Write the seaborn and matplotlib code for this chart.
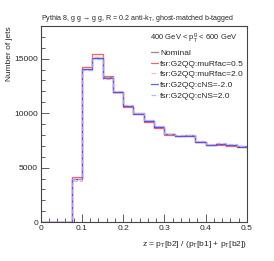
import numpy as np
import seaborn as sns
import matplotlib.pyplot as plt
from matplotlib.ticker import MultipleLocator

bin_edges = [0.0, 0.025, 0.05, 0.075, 0.1, 0.125, 0.15, 0.175, 0.2, 0.225, 0.25,
             0.275, 0.3, 0.325, 0.35, 0.375, 0.4, 0.425, 0.45, 0.475, 0.5]

nominal = [0, 0, 0, 3950, 14050, 15050, 13300, 11950, 10670, 9970, 9290,
           8740, 8070, 7890, 7950, 7370, 7090, 7150, 7060, 6940]
murfac_05 = [0, 0, 0, 4100, 14190, 15410, 13420, 11900, 10600, 9900, 9220,
             8680, 8030, 7870, 7930, 7330, 7060, 7110, 7020, 6900]
murfac_20 = [0, 0, 0, 3800, 13920, 15170, 13120, 11850, 10620, 10020, 9340,
             8780, 8110, 7930, 7990, 7400, 7120, 7190, 7100, 6990]
cns_m20 = [0, 0, 0, 3930, 14080, 15080, 13270, 11960, 10690, 9960, 9280,
           8730, 8060, 7900, 7940, 7360, 7080, 7140, 7050, 6930]
cns_20 = [0, 0, 0, 3960, 14000, 15000, 13350, 12000, 10720, 10020, 9330,
          8790, 8120, 7950, 8000, 7420, 7170, 7230, 7140, 7030]

labels = ["Nominal", "fsr:G2QQ:muRfac=0.5", "fsr:G2QQ:muRfac=2.0",
          "fsr:G2QQ:cNS=-2.0", "fsr:G2QQ:cNS=2.0"]
series = [nominal, murfac_05, murfac_20, cns_m20, cns_20]
colors = ["#777777", "#ff4444", "#ffaaaa", "#4444ee", "#aaaaff"]
styles = ["-", "-", "--", "-", "--"]

sns.set_style("ticks")
plt.rcParams['font.family'] = ['Liberation Sans', 'DejaVu Sans']

fig = plt.figure(figsize=(2.74, 2.61), dpi=100)
ax = fig.add_axes([0.1485, 0.149, 0.7525, 0.7515])

centers = [(a + b) / 2 for a, b in zip(bin_edges[:-1], bin_edges[1:])]
for vals, lab, col, ls in zip(series, labels, colors, styles):
    sns.histplot(x=centers, weights=vals, bins=bin_edges, element="step",
                 fill=False, color=col, linestyle=ls, linewidth=0.9,
                 alpha=0.85, label=lab, ax=ax)

ax.set_xlim(0, 0.5)
ax.set_ylim(0, 18000)
ax.xaxis.set_major_locator(MultipleLocator(0.1))
ax.xaxis.set_minor_locator(MultipleLocator(0.02))
ax.yaxis.set_major_locator(MultipleLocator(5000))
ax.yaxis.set_minor_locator(MultipleLocator(1000))
ax.xaxis.set_major_formatter(plt.FuncFormatter(lambda v, p: "0" if v == 0 else f"{v:g}"))
ax.tick_params(which="both", direction="in", labelsize=6, pad=2, color="#444444",
               top=False, right=False, width=0.6)
ax.tick_params(which="major", length=6)
ax.tick_params(which="minor", length=3)
for s in ax.spines.values():
    s.set_color("#444444")
    s.set_linewidth(0.8)

ax.set_xlabel("z = p$_{\\mathregular{T}}$[b2] / (p$_{\\mathregular{T}}$[b1] + p$_{\\mathregular{T}}$[b2])",
              fontsize=6, loc="right", labelpad=5)
ax.set_ylabel("Number of jets", fontsize=6, loc="top", labelpad=1)
ax.set_title("Pythia 8, g g \u2192 g g, R = 0.2 anti-k$_{\\mathregular{T}}$, ghost-matched b-tagged",
             fontsize=5.1, loc="left", pad=4)
ax.text(0.53, 0.935, "400 GeV < p$_{\\mathregular{T}}^{\\mathregular{g}}$ < 600 GeV",
        transform=ax.transAxes, fontsize=5.5, va="center")

leg = ax.legend(loc="upper left", bbox_to_anchor=(0.52, 0.9), frameon=False,
                fontsize=6, handlelength=0.8, handletextpad=0.25, labelspacing=0.35,
                borderaxespad=0)

fig.savefig("out.png", dpi=100)
